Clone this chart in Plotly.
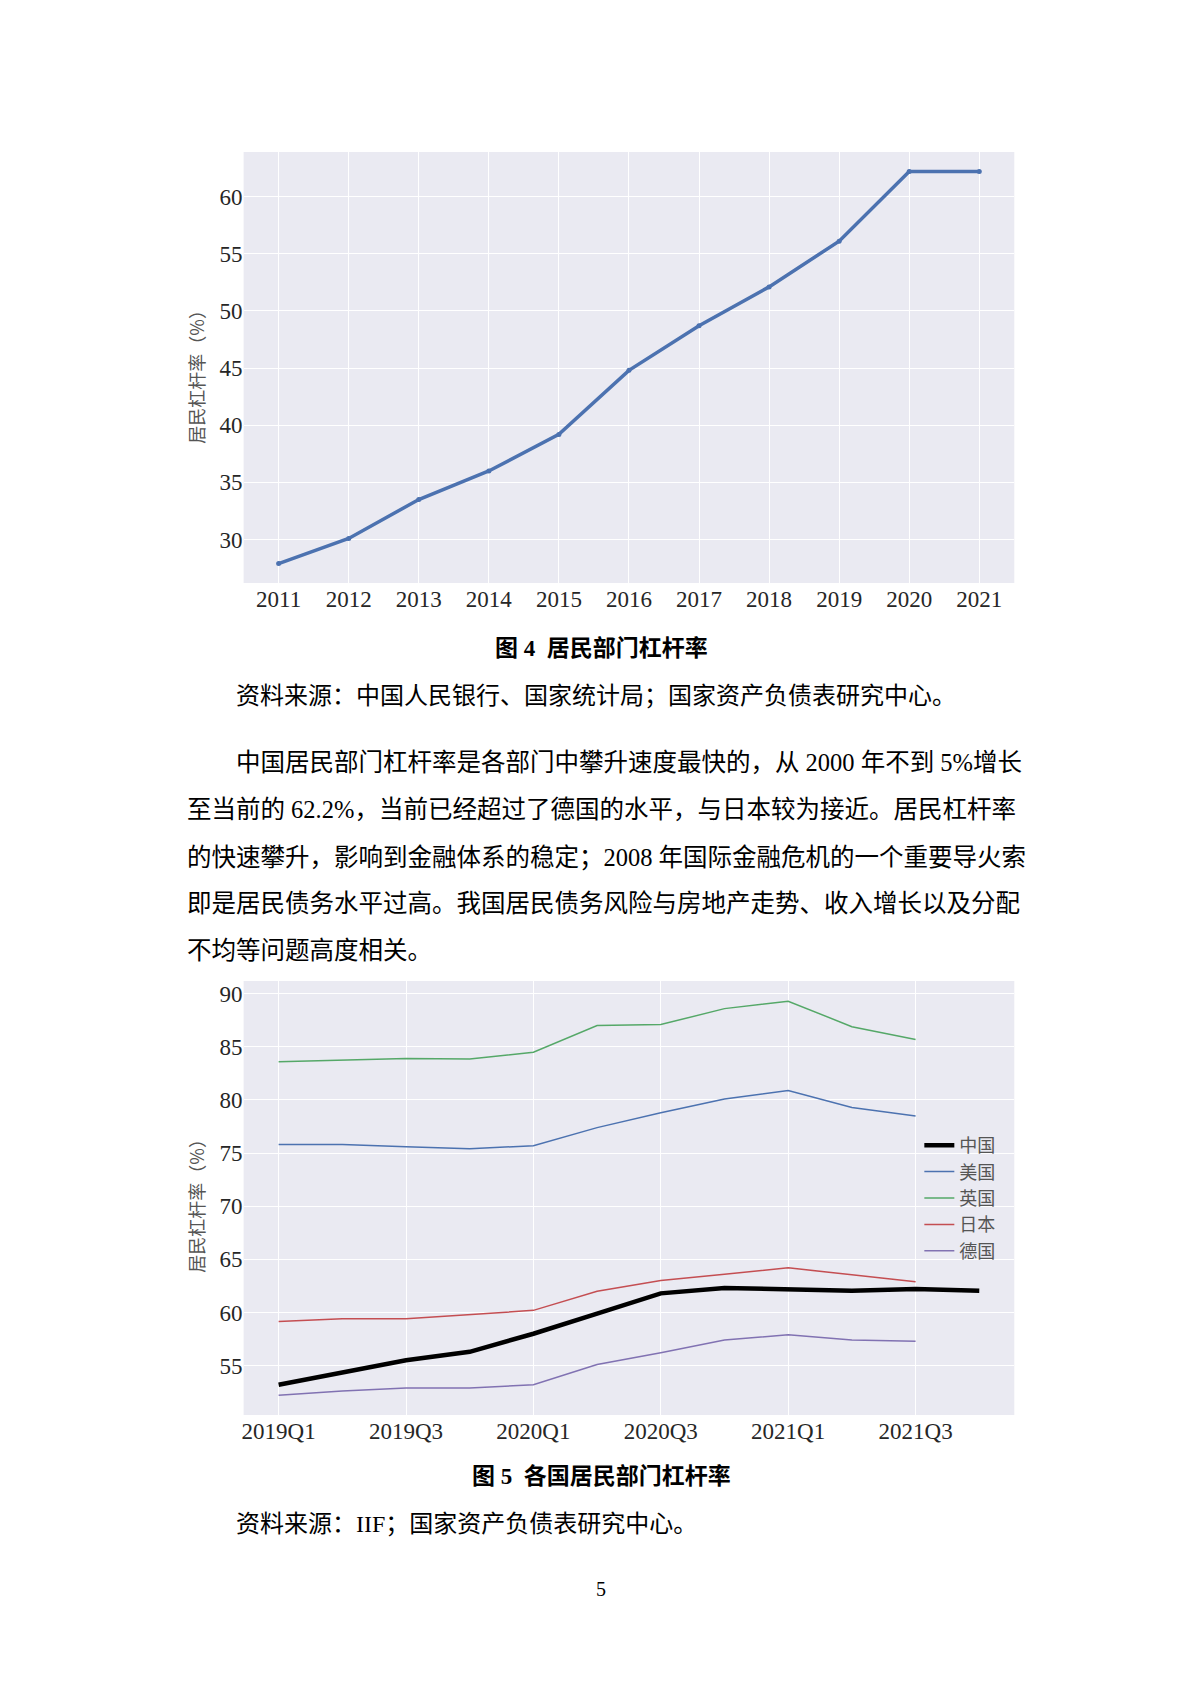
import plotly.graph_objects as go

# 图4 居民部门杠杆率（年度）
years = [2011, 2012, 2013, 2014, 2015, 2016, 2017, 2018, 2019, 2020, 2021]
cn_lev = [27.9, 30.1, 33.5, 36.0, 39.2, 44.8, 48.7, 52.1, 56.1, 62.2, 62.2]

# 图5 各国居民部门杠杆率（季度）
quarters = ['2019Q1', '2019Q2', '2019Q3', '2019Q4', '2020Q1', '2020Q2',
            '2020Q3', '2020Q4', '2021Q1', '2021Q2', '2021Q3', '2021Q4']
china = [53.2, 54.4, 55.5, 56.3, 58.0, 59.9, 61.8, 62.3, 62.2, 62.05, 62.2, 62.05]
usa = [75.8, 75.8, 75.6, 75.4, 75.7, 77.4, 78.8, 80.1, 80.9, 79.3, 78.5]
uk = [83.6, 83.75, 83.9, 83.85, 84.5, 87.0, 87.1, 88.6, 89.3, 86.9, 85.7]
japan = [59.15, 59.4, 59.4, 59.8, 60.2, 62.0, 63.0, 63.6, 64.2, 63.55, 62.9]
germany = [52.2, 52.6, 52.9, 52.9, 53.2, 55.1, 56.2, 57.4, 57.9, 57.4, 57.3]

W, H = 1200, 1698
BG = '#EAEAF2'
SERIF = 'Liberation Serif, Noto Sans CJK SC'
CJK = 'Noto Sans CJK SC'


def py(y):
    # 像素 -> paper 坐标
    return 1 - y / H


def note(text, x, y, size=24, xanchor='left', **kw):
    fig.add_annotation(text=text, x=x / W, y=py(y), xref='paper', yref='paper',
                       xanchor=xanchor, yanchor='middle', showarrow=False,
                       font=dict(family=kw.pop('family', SERIF), size=size,
                                 color=kw.pop('color', 'black')), **kw)


fig = go.Figure()

fig.add_trace(go.Scatter(x=years, y=cn_lev, mode='lines+markers',
                         line=dict(color='#4C72B0', width=3.5),
                         marker=dict(color='#4C72B0', size=5),
                         showlegend=False, xaxis='x', yaxis='y'))

series = [('中国', china, '#000000', 4.5),
          ('美国', usa, '#4C72B0', 1.5),
          ('英国', uk, '#55A868', 1.5),
          ('日本', japan, '#C44E52', 1.5),
          ('德国', germany, '#8172B2', 1.5)]
for name, vals, color, w in series:
    fig.add_trace(go.Scatter(x=quarters[:len(vals)], y=vals, mode='lines', name=name,
                             line=dict(color=color, width=w),
                             xaxis='x2', yaxis='y2'))

axis_common = dict(showgrid=True, gridcolor='white', gridwidth=1.2, zeroline=False,
                   showline=False, ticks='', tickfont=dict(family=SERIF, size=23, color='#262626'))

fig.update_layout(
    width=W, height=H,
    margin=dict(l=0, r=0, t=0, b=0),
    paper_bgcolor='white',
    plot_bgcolor=BG,
    xaxis=dict(domain=[242 / W, 1014 / W], anchor='y', range=[2010.5, 2021.5],
               tickvals=years, **axis_common),
    yaxis=dict(domain=[py(583), py(152)], anchor='x', range=[26.2, 63.9],
               tickvals=[30, 35, 40, 45, 50, 55, 60], **axis_common),
    xaxis2=dict(domain=[242 / W, 1014 / W], anchor='y2', type='category',
                range=[-0.55, 11.55], tickvals=quarters[::2], **axis_common),
    yaxis2=dict(domain=[py(1415), py(981)], anchor='x2', range=[50.35, 91.2],
                tickvals=[55, 60, 65, 70, 75, 80, 85, 90], **axis_common),
    legend=dict(x=1000 / W, xanchor='right', y=py(1198), yanchor='middle',
                bgcolor='rgba(0,0,0,0)', font=dict(family=CJK, size=18, color='#555555'),
                tracegroupgap=0),
)

# 纵轴标题
for yc in (372, 1201):
    note('居民杠杆率（%）', 194, yc, size=18, xanchor='center', textangle=-90,
         family=CJK, color='#555555')

# 图题与资料来源
note('<b>图 4  居民部门杠杆率</b>', 600, 648, size=23, xanchor='center')
note('资料来源：中国人民银行、国家统计局；国家资产负债表研究中心。', 232, 696)

para = ['中国居民部门杠杆率是各部门中攀升速度最快的，从 2000 年不到 5%增长',
        '至当前的 62.2%，当前已经超过了德国的水平，与日本较为接近。居民杠杆率',
        '的快速攀升，影响到金融体系的稳定；2008 年国际金融危机的一个重要导火索',
        '即是居民债务水平过高。我国居民债务风险与房地产走势、收入增长以及分配',
        '不均等问题高度相关。']
line_y = [762, 809, 857, 903, 950]
for i, (txt, yy) in enumerate(zip(para, line_y)):
    note(txt, 232 if i == 0 else 183, yy, size=24.5)

note('<b>图 5  各国居民部门杠杆率</b>', 600, 1476, size=23, xanchor='center')
note('资料来源：IIF；国家资产负债表研究中心。', 232, 1524)

note('5', 600, 1589, size=20, xanchor='center')

fig.write_html("out.html", config={'displayModeBar': False},
               post_script="document.body.style.margin='0';")
